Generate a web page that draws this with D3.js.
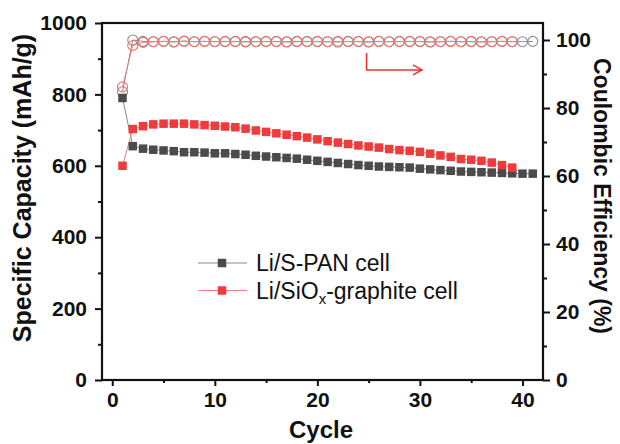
<!DOCTYPE html>
<html>
<head>
<meta charset="utf-8">
<script src="https://cdn.jsdelivr.net/npm/d3@7"></script>
<style>
  body { margin: 0; background: #fff; }
  svg text { font-family: "Liberation Sans", Arial, sans-serif; }
</style>
</head>
<body>
<div class="chart"></div>
<script>
// cycle numbers
var cyclesPan = [1, 2, 3, 4, 5, 6, 7, 8, 9, 10, 11, 12, 13, 14, 15, 16, 17, 18, 19, 20,
    21, 22, 23, 24, 25, 26, 27, 28, 29, 30, 31, 32, 33, 34, 35, 36, 37, 38, 39, 40, 41];
var cyclesSiox = [1, 2, 3, 4, 5, 6, 7, 8, 9, 10, 11, 12, 13, 14, 15, 16, 17, 18, 19, 20,
    21, 22, 23, 24, 25, 26, 27, 28, 29, 30, 31, 32, 33, 34, 35, 36, 37, 38, 39];

// specific capacity (mAh/g)
var capPan = [790, 655, 648, 645, 643, 641, 638, 638, 637, 635, 635, 633, 631, 628, 626, 624, 622, 620, 617, 614,
    611, 608, 605, 602, 600, 598, 597, 596, 595, 592, 590, 588, 586, 584, 583, 582, 581, 580, 579, 578, 578];
var capSiox = [600, 703, 711, 716, 718, 718, 718, 716, 714, 712, 710, 708, 704, 699, 695, 691, 687, 683, 679, 674,
    669, 665, 661, 657, 654, 651, 647, 644, 642, 639, 634, 629, 625, 619, 617, 614, 609, 602, 595];

// coulombic efficiency (%)
var cePan = [84.8, 100.0, 99.6, 99.5, 99.6, 99.4, 99.7, 99.5, 99.6, 99.5, 99.5, 99.6, 99.4, 99.5, 99.5, 99.6, 99.4, 99.5, 99.6, 99.5,
    99.5, 99.4, 99.6, 99.5, 99.4, 99.6, 99.5, 99.5, 99.6, 99.5, 99.4, 99.5, 99.6, 99.5, 99.5, 99.4, 99.5, 99.6, 99.5, 99.5, 99.6];
var ceSiox = [86.2, 98.4, 99.3, 99.5, 99.6, 99.5, 99.6, 99.5, 99.6, 99.5, 99.6, 99.5, 99.6, 99.5, 99.6, 99.5, 99.5, 99.6, 99.5, 99.6,
    99.5, 99.6, 99.5, 99.6, 99.5, 99.6, 99.5, 99.6, 99.5, 99.6, 99.5, 99.5, 99.6, 99.5, 99.6, 99.5, 99.5, 99.6, 99.5];

var xTicks = [0, 10, 20, 30, 40];
var yTicks = [0, 200, 400, 600, 800, 1000];
var y2Ticks = [0, 20, 40, 60, 80, 100];

var series = [
    {name: "pan", label: "Li/S-PAN cell", x: cyclesPan, cap: capPan, ce: cePan,
        fill: "#4b4b4b", line: "#8a8a8a", ring: "#8c8c8c"},
    {name: "siox", label: "Li/SiO", sub: "x", after: "-graphite cell", x: cyclesSiox, cap: capSiox, ce: ceSiox,
        fill: "#ef3b3b", line: "#f28080", ring: "#f07272"}
];

var W = 620, H = 444;
var box = {left: 102, right: 543, top: 23, bottom: 380};

var svg = d3.select(".chart").append("svg")
    .attr("width", W)
    .attr("height", H);

var x = d3.scaleLinear().domain([-1, 42]).range([box.left, box.right]);
var y = d3.scaleLinear().domain([0, 1000]).range([box.bottom, box.top]);
var y2 = d3.scaleLinear().domain([0, 105]).range([box.bottom, box.top]);

// minor ticks first, then majors
function minor(g) {
    g.selectAll("text").remove();
    g.select(".domain").remove();
}

svg.append("g")
    .attr("transform", "translate(0," + box.bottom + ")")
    .call(d3.axisBottom(x).tickValues([5, 15, 25, 35]).tickSize(3).tickFormat(""))
    .call(minor);
svg.append("g")
    .attr("transform", "translate(" + box.left + ",0)")
    .call(d3.axisLeft(y).tickValues([100, 300, 500, 700, 900]).tickSize(4).tickFormat(""))
    .call(minor);
svg.append("g")
    .attr("transform", "translate(" + box.right + ",0)")
    .call(d3.axisRight(y2).tickValues([10, 30, 50, 70, 90]).tickSize(4).tickFormat(""))
    .call(minor);

svg.append("g")
    .attr("class", "axis")
    .attr("transform", "translate(0," + box.bottom + ")")
    .call(d3.axisBottom(x).tickValues(xTicks).tickSize(6).tickPadding(6).tickSizeOuter(0));
svg.append("g")
    .attr("class", "axis")
    .attr("transform", "translate(" + box.left + ",0)")
    .call(d3.axisLeft(y).tickValues(yTicks).tickFormat(d3.format("d")).tickSize(7).tickPadding(8).tickSizeOuter(0));
svg.append("g")
    .attr("class", "axis")
    .attr("transform", "translate(" + box.right + ",0)")
    .call(d3.axisRight(y2).tickValues(y2Ticks).tickSize(7).tickPadding(6).tickSizeOuter(0));

svg.selectAll(".axis text")
    .style("font-size", "21px")
    .style("font-weight", "bold")
    .attr("fill", "#111");
svg.selectAll("g line").attr("stroke", "#111").attr("stroke-width", 2);
svg.selectAll(".domain").attr("stroke", "none");

// frame
svg.append("rect")
    .attr("x", box.left)
    .attr("y", box.top)
    .attr("width", box.right - box.left)
    .attr("height", box.bottom - box.top)
    .attr("fill", "none")
    .attr("stroke", "#111")
    .attr("stroke-width", 2.2);

// connecting lines
var capLine = function (s) {
    return d3.line().x(function (d) { return x(d); })
        .y(function (d, i) { return y(s.cap[i]); })(s.x);
};
var ceLine = function (s) {
    return d3.line().x(function (d) { return x(d); })
        .y(function (d, i) { return y2(s.ce[i]); })(s.x);
};

series.forEach(function (s) {
    svg.append("path").attr("d", ceLine(s))
        .attr("fill", "none").attr("stroke", s.line).attr("stroke-width", 1);
    svg.append("path").attr("d", capLine(s))
        .attr("fill", "none").attr("stroke", s.line).attr("stroke-width", 1);
});

var sq = 8.5;
series.forEach(function (s) {
    svg.append("g").selectAll("circle")
        .data(s.x)
        .enter()
        .append("circle")
        .attr("cx", function (d) { return x(d); })
        .attr("cy", function (d, i) { return y2(s.ce[i]); })
        .attr("r", 5)
        .attr("fill", "none")
        .attr("stroke", s.ring)
        .attr("stroke-width", 1.1);
});
series.forEach(function (s) {
    svg.append("g").selectAll("rect")
        .data(s.x)
        .enter()
        .append("rect")
        .attr("x", function (d) { return x(d) - sq / 2; })
        .attr("y", function (d, i) { return y(s.cap[i]) - sq / 2; })
        .attr("width", sq)
        .attr("height", sq)
        .attr("fill", s.fill);
});

// arrow pointing to right axis
var arrowColor = "#ef3030";
var ax0 = x(24.8), ax1 = x(30.2), ay0 = y2(96.2), ay1 = y2(91.2);
svg.append("path")
    .attr("d", "M" + ax0 + "," + ay0 + "V" + ay1 + "H" + ax1)
    .attr("fill", "none")
    .attr("stroke", arrowColor)
    .attr("stroke-width", 1.5);
svg.append("path")
    .attr("d", "M" + (ax1 - 9) + "," + (ay1 - 5) + "L" + ax1 + "," + ay1 + "L" + (ax1 - 9) + "," + (ay1 + 5))
    .attr("fill", "none")
    .attr("stroke", arrowColor)
    .attr("stroke-width", 1.5);

// legend
var legend = svg.append("g").attr("transform", "translate(198,263)");
series.forEach(function (s, i) {
    var row = legend.append("g").attr("transform", "translate(0," + i * 27.5 + ")");
    row.append("line").attr("x1", 0).attr("x2", 49)
        .attr("stroke", s.line).attr("stroke-width", 1);
    row.append("rect").attr("x", 24 - sq / 2).attr("y", -sq / 2)
        .attr("width", sq).attr("height", sq).attr("fill", s.fill);
    var t = row.append("text").attr("x", 58).attr("y", 8)
        .style("font-size", "23px").attr("fill", "#111");
    t.append("tspan").text(s.label);
    if (s.sub) {
        t.append("tspan").text(s.sub).attr("dy", 5).style("font-size", "15px");
        t.append("tspan").text(s.after).attr("dy", -5);
    }
});

// axis titles
svg.append("text")
    .attr("transform", "translate(31,188) rotate(-90)")
    .attr("text-anchor", "middle")
    .style("font-size", "25px")
    .style("font-weight", "bold")
    .attr("fill", "#111")
    .text("Specific Capacity (mAh/g)");
svg.append("text")
    .attr("transform", "translate(594,196) rotate(90)")
    .attr("text-anchor", "middle")
    .style("font-size", "23px")
    .style("font-weight", "bold")
    .attr("fill", "#111")
    .text("Coulombic Efficiency (%)");
svg.append("text")
    .attr("x", 321)
    .attr("y", 438)
    .attr("text-anchor", "middle")
    .style("font-size", "24px")
    .style("font-weight", "bold")
    .attr("fill", "#111")
    .text("Cycle");
</script>
</body>
</html>
